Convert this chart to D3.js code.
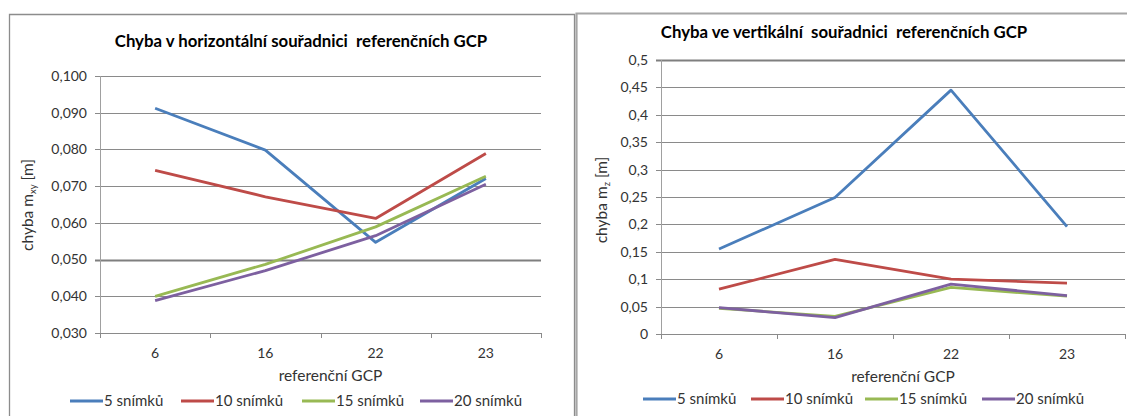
<!DOCTYPE html>
<html>
<head>
<meta charset="utf-8">
<script src="https://cdn.jsdelivr.net/npm/d3@7"></script>
<style>
  body { margin: 0; background: #fff; }
  svg { display: block; font-family: Lato, "Open Sans", sans-serif; }
  .tick-label { font-size: 14px; fill: #333; }
  .chart-title { font-size: 16.8px; font-weight: bold; fill: #000; }
  .axis-title { font-size: 15.5px; fill: #333; }
  .legend-text { font-size: 15px; fill: #333; }
</style>
</head>
<body>
<div id="chart"></div>
<script>
// categories (reference GCP)
var categories = ["6", "16", "22", "23"];
var seriesNames = ["5 snímků", "10 snímků", "15 snímků", "20 snímků"];
var seriesColors = ["#4a7ebb", "#be4b48", "#98b954", "#7d60a0"];

// horizontal error m_xy [m]
var horiz5 = [0.0912, 0.0798, 0.0547, 0.0721];
var horiz10 = [0.0743, 0.0671, 0.0612, 0.0789];
var horiz15 = [0.0400, 0.0487, 0.0589, 0.0727];
var horiz20 = [0.0388, 0.0470, 0.0565, 0.0705];
var horizTicks = [0.03, 0.04, 0.05, 0.06, 0.07, 0.08, 0.09, 0.10];

// vertical error m_z [m]
var vert5 = [0.155, 0.249, 0.445, 0.196];
var vert10 = [0.082, 0.136, 0.100, 0.093];
var vert15 = [0.047, 0.032, 0.085, 0.069];
var vert20 = [0.048, 0.030, 0.091, 0.070];
var vertTicks = [0, 0.05, 0.1, 0.15, 0.2, 0.25, 0.3, 0.35, 0.4, 0.45, 0.5];

var svg = d3.select("#chart").append("svg")
    .attr("width", 1127)
    .attr("height", 416);

function drawChart(cfg) {
    var g = svg.append("g");

    // outer frame (bottom runs off the picture)
    g.append("path")
        .attr("d", `M${cfg.frame.x1},430 V${cfg.frame.y} H${cfg.frame.x2} V430`)
        .attr("fill", "none")
        .attr("stroke", cfg.frame.color)
        .attr("stroke-width", cfg.frame.width);

    var x = d3.scaleBand().domain(categories).range([cfg.left, cfg.right]);
    var y = d3.scaleLinear().domain(cfg.domain).range([cfg.bottom, cfg.top]);

    // gridlines
    g.selectAll(".grid").data(cfg.ticks.slice(1)).enter().append("line")
        .attr("x1", cfg.left - 5).attr("x2", cfg.right)
        .attr("y1", d => Math.round(y(d)) + 0.5).attr("y2", d => Math.round(y(d)) + 0.5)
        .attr("stroke", d => d === cfg.heavy ? "#7f7f7f" : "#8a8a8a")
        .attr("stroke-width", d => d === cfg.heavy ? 2.2 : 1);

    // y axis line
    g.append("line")
        .attr("x1", cfg.left + 0.5).attr("x2", cfg.left + 0.5)
        .attr("y1", cfg.top).attr("y2", cfg.bottom)
        .attr("stroke", "#a0a0a0");

    // x axis line and tick marks
    g.append("line")
        .attr("x1", cfg.left - 5).attr("x2", cfg.right)
        .attr("y1", Math.round(y(cfg.domain[0])) + 0.5).attr("y2", Math.round(y(cfg.domain[0])) + 0.5)
        .attr("stroke", "#8a8a8a");
    var bounds = categories.map(c => x(c)).concat([cfg.right]);
    g.selectAll(".xtick").data(bounds).enter().append("line")
        .attr("x1", d => Math.round(d) + 0.5).attr("x2", d => Math.round(d) + 0.5)
        .attr("y1", cfg.bottom).attr("y2", cfg.bottom + 5)
        .attr("stroke", "#8a8a8a");

    // y tick labels
    g.selectAll(".ylab").data(cfg.ticks).enter().append("text")
        .attr("class", "tick-label")
        .attr("x", cfg.left - 13)
        .attr("y", d => y(d))
        .attr("dy", "0.35em")
        .attr("text-anchor", "end")
        .text(cfg.fmt);

    // x tick labels
    g.selectAll(".xlab").data(categories).enter().append("text")
        .attr("class", "tick-label")
        .attr("x", d => x(d) + x.bandwidth() / 2)
        .attr("y", cfg.bottom + 25)
        .attr("text-anchor", "middle")
        .text(d => d);

    // lines
    var line = d3.line()
        .x((d, i) => x(categories[i]) + x.bandwidth() / 2)
        .y(d => y(d));
    cfg.series.forEach(function(vals, i) {
        g.append("path")
            .datum(vals)
            .attr("d", line)
            .attr("fill", "none")
            .attr("stroke", seriesColors[i])
            .attr("stroke-width", 2.8)
            .attr("stroke-linejoin", "round");
    });

    // titles
    g.append("text")
        .attr("class", "chart-title")
        .attr("x", cfg.titleX).attr("y", cfg.titleY)
        .attr("text-anchor", "middle")
        .attr("xml:space", "preserve")
        .text(cfg.title);

    g.append("text")
        .attr("class", "axis-title")
        .attr("x", (cfg.left + cfg.right) / 2 + 10)
        .attr("y", cfg.bottom + 48)
        .attr("text-anchor", "middle")
        .text("referenční GCP");

    var yt = g.append("text")
        .attr("class", "axis-title")
        .attr("transform", `translate(${cfg.yTitleX}, ${cfg.yTitleY}) rotate(-90)`)
        .attr("text-anchor", "middle");
    yt.append("tspan").text("chyba m");
    yt.append("tspan").attr("dy", 3).style("font-size", "9.5px").text(cfg.sub);
    yt.append("tspan").attr("dy", -3).text(" [m]");

    // legend
    var lg = g.selectAll(".leg").data(seriesNames).enter().append("g")
        .attr("transform", (d, i) => `translate(${cfg.legendX[i]}, ${cfg.legendY})`);
    lg.append("line")
        .attr("x1", 0).attr("x2", 33)
        .attr("stroke", (d, i) => seriesColors[i])
        .attr("stroke-width", 3);
    lg.append("text")
        .attr("class", "legend-text")
        .attr("x", 34)
        .attr("dy", "0.35em")
        .text(d => d);
}

drawChart({
    frame: { x1: 9.5, x2: 574.5, y: 14.5, color: "#8c8c8c", width: 1.3 },
    left: 100, right: 541, top: 76, bottom: 333,
    domain: [0.03, 0.10], ticks: horizTicks, heavy: 0.05,
    fmt: d => d3.format(".3f")(d).replace(".", ","),
    series: [horiz5, horiz10, horiz15, horiz20],
    title: "Chyba v horizontální souřadnici  referenčních GCP",
    titleX: 301, titleY: 47,
    sub: "xy", yTitleX: 33, yTitleY: 205,
    legendX: [70, 181, 302, 420], legendY: 401
});

drawChart({
    frame: { x1: 576.5, x2: 1140, y: 13.5, color: "#a6a6a6", width: 2.2 },
    left: 661, right: 1125, top: 60, bottom: 334,
    domain: [0, 0.5], ticks: vertTicks, heavy: 0.5,
    fmt: d => String(+d.toFixed(2)).replace(".", ","),
    series: [vert5, vert10, vert15, vert20],
    title: "Chyba ve vertikální  souřadnici  referenčních GCP",
    titleX: 844, titleY: 38,
    sub: "z", yTitleX: 607, yTitleY: 200,
    legendX: [643, 751, 865, 982], legendY: 399
});
</script>
</body>
</html>
